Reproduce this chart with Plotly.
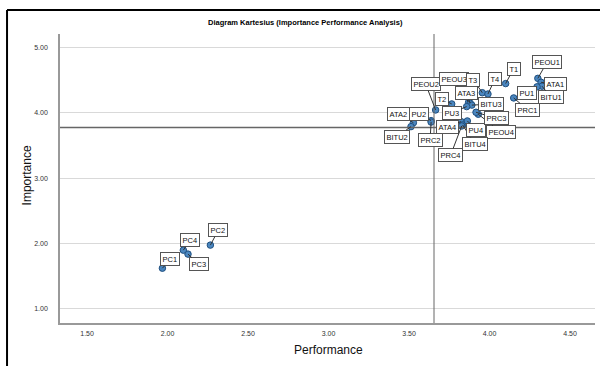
import plotly.graph_objects as go

# ---- data ----
labels = ["PEOU1", "PEOU2", "PEOU3", "PEOU4",
          "ATA1", "ATA2", "ATA3", "ATA4",
          "BITU1", "BITU2", "BITU3", "BITU4",
          "PU1", "PU2", "PU3", "PU4",
          "PRC1", "PRC2", "PRC3", "PRC4",
          "T1", "T2", "T3", "T4",
          "PC1", "PC2", "PC3", "PC4"]
performance = [4.30, 3.665, 3.87, 3.93,
               4.32, 3.527, 3.88, 3.823,
               4.326, 3.512, 3.89, 3.833,
               4.295, 3.637, 3.858, 3.862,
               4.15, 3.637, 3.916, 3.827,
               4.10, 3.765, 3.955, 3.99,
               1.968, 2.266, 2.127, 2.098]
importance = [4.53, 4.046, 4.164, 3.98,
              4.47, 3.85, 4.149, 3.867,
              4.41, 3.79, 4.12, 3.816,
              4.40, 3.882, 4.097, 3.877,
              4.23, 3.86, 4.01, 3.80,
              4.45, 4.138, 4.31, 4.29,
              1.62, 1.974, 1.836, 1.897]
mean_performance = 3.655
mean_importance = 3.775
x_ticks = [1.5, 2.0, 2.5, 3.0, 3.5, 4.0, 4.5]
y_ticks = [1.0, 2.0, 3.0, 4.0, 5.0]

# label box offsets (pixels) for leader lines
offsets = {
    "PEOU1": (9, -16), "ATA1": (14, 2), "BITU1": (9, 11), "PU1": (-10, 6),
    "PRC1": (14, 12), "T1": (8, -15), "T4": (7, -15), "T3": (-9, -13),
    "PEOU3": (-15, -23), "PEOU2": (-10, -26), "ATA3": (-4, -10), "T2": (-10, -5),
    "BITU3": (19, -1), "PU3": (-15, 6), "PRC3": (20, 6), "ATA2": (-15, -9),
    "PU2": (-12, -7), "BITU2": (-14, 10), "ATA4": (-14, 5), "PU4": (9, 9),
    "PEOU4": (23, 18), "PRC2": (-1, 18), "BITU4": (12, 19), "PRC4": (-11, 29),
    "PC2": (8, -15), "PC4": (7, -10), "PC3": (11, 10), "PC1": (8, -9),
}

FONT = "Liberation Sans, Arial, sans-serif"

fig = go.Figure()
fig.add_trace(go.Scatter(
    x=performance, y=importance, mode="markers",
    marker=dict(size=6.5, color="#4a86bf", line=dict(color="#1f4f7f", width=1)),
    hoverinfo="text", text=labels, showlegend=False,
))

annotations = []
for lab, xv, yv in zip(labels, performance, importance):
    ax, ay = offsets[lab]
    annotations.append(dict(
        x=xv, y=yv, xref="x", yref="y", text=lab, showarrow=True,
        arrowhead=0, arrowwidth=1, arrowcolor="#333333", ax=ax, ay=ay,
        font=dict(family=FONT, size=7.5, color="#111111"),
        bgcolor="white", bordercolor="#555555", borderwidth=1, borderpad=1.5,
    ))

# title and axis titles
annotations.append(dict(text="<b>Diagram Kartesius (Importance Performance Analysis)</b>",
                        xref="paper", yref="paper", x=0.458, y=1.0415, showarrow=False,
                        font=dict(family=FONT, size=7.5, color="#000000"),
                        xanchor="center", yanchor="middle"))
annotations.append(dict(text="Performance", xref="paper", yref="paper", x=0.501, y=-0.092,
                        showarrow=False, font=dict(family=FONT, size=12, color="#111111"),
                        xanchor="center", yanchor="middle"))
annotations.append(dict(text="Importance", xref="paper", yref="paper", x=-0.062, y=0.51,
                        showarrow=False, textangle=-90,
                        font=dict(family=FONT, size=12, color="#111111"),
                        xanchor="center", yanchor="middle"))

shapes = [
    dict(type="line", xref="x", yref="paper", x0=mean_performance, x1=mean_performance,
         y0=0, y1=1, line=dict(color="#666666", width=1)),
    dict(type="line", xref="paper", yref="y", x0=0, x1=1, y0=mean_importance,
         y1=mean_importance, line=dict(color="#666666", width=1.5)),
    # outer frame (left and top)
    dict(type="line", xref="paper", yref="paper", x0=-0.099, x1=-0.099, y0=1.083, y1=-0.25,
         line=dict(color="black", width=2)),
    dict(type="line", xref="paper", yref="paper", x0=-0.099, x1=1.05, y0=1.083, y1=1.083,
         line=dict(color="black", width=2)),
]

fig.update_layout(
    width=600, height=366,
    margin=dict(l=60, r=5, t=34, b=43),
    paper_bgcolor="white", plot_bgcolor="white",
    annotations=annotations, shapes=shapes,
    xaxis=dict(range=[1.332, 4.655], tickvals=x_ticks,
               ticktext=[f"{v:.2f}" for v in x_ticks], automargin=False,
               showgrid=False, zeroline=False, showline=True, linecolor="#999999",
               linewidth=1.5, ticks="", ticklabelstandoff=3,
               tickfont=dict(family=FONT, size=7, color="#333333")),
    yaxis=dict(range=[0.78, 5.21], tickvals=y_ticks,
               ticktext=[f"{v:.2f}" for v in y_ticks], automargin=False,
               showgrid=True, gridcolor="#d9d9d9", gridwidth=1, zeroline=False,
               showline=True, linecolor="#999999", linewidth=1.5, ticks="",
               ticklabelstandoff=9,
               tickfont=dict(family=FONT, size=7, color="#333333")),
)

fig.write_html("out.html", config={"displayModeBar": False},
               post_script="document.body.style.margin='0';document.body.style.padding='0';")
